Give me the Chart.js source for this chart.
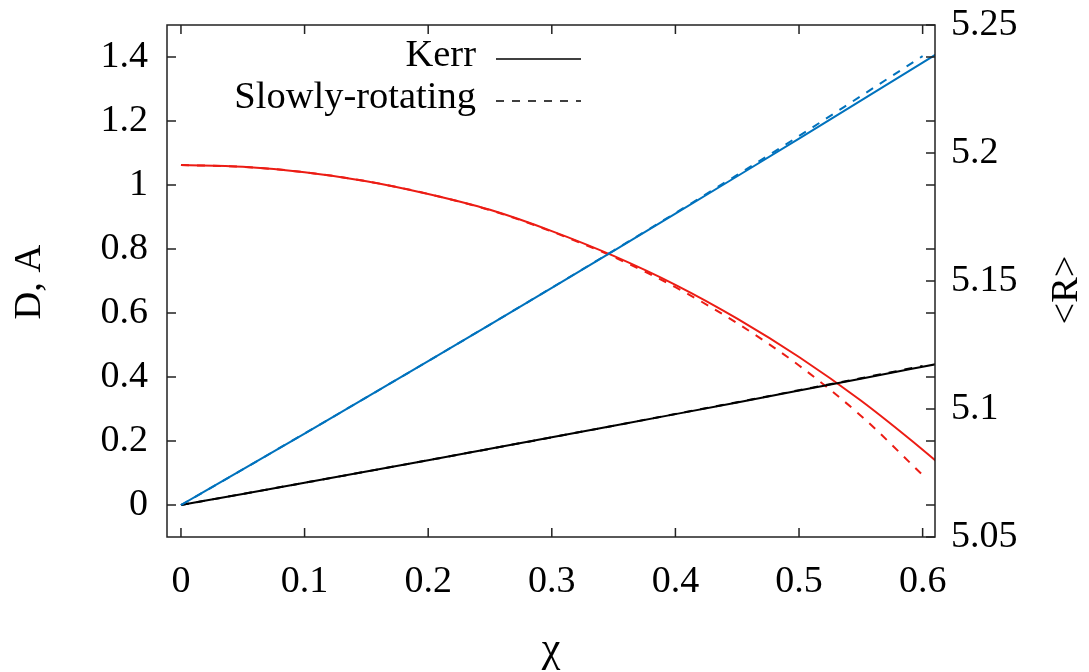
<!DOCTYPE html>
<html>
<head>
<meta charset="utf-8">
<script src="https://cdn.jsdelivr.net/npm/chart.js@4/dist/chart.umd.min.js"></script>
<style>
  html, body { margin: 0; padding: 0; background: #fff; }
  #wrap { width: 1089px; height: 672px; }
</style>
</head>
<body>
<div id="wrap"><canvas id="plot"></canvas></div>
<script>
// spin parameter samples
const chiKerr = [0, 0.05, 0.1, 0.15, 0.2, 0.25, 0.3, 0.35, 0.4, 0.45, 0.5, 0.55, 0.6, 0.62];
const chiSlow = [0, 0.05, 0.1, 0.15, 0.2, 0.25, 0.3, 0.35, 0.4, 0.45, 0.5, 0.55, 0.6];

// D (blue), left axis
const dKerr = [0, 0.1114, 0.2234, 0.3362, 0.4496, 0.5638, 0.6786, 0.7942, 0.9104, 1.0274, 1.145, 1.2634, 1.3824, 1.4302];
const dSlow = [0, 0.1114, 0.2234, 0.3362, 0.4496, 0.5639, 0.679, 0.7952, 0.9125, 1.0317, 1.1531, 1.2778, 1.403];

// A (black), left axis
const aKerr = [0, 0.0346, 0.0695, 0.1046, 0.140, 0.1756, 0.2115, 0.2476, 0.284, 0.3206, 0.3575, 0.3946, 0.432, 0.447];
const aSlow = [0, 0.0346, 0.0695, 0.1046, 0.140, 0.1756, 0.2115, 0.2478, 0.2845, 0.3214, 0.3587, 0.3962, 0.4345];

// <R> (red), right axis
const rKerr = [5.1953, 5.1946, 5.1925, 5.1890, 5.1840, 5.1778, 5.1695, 5.1598, 5.1485, 5.1353, 5.1203, 5.1033, 5.0841, 5.0759];
const rSlow = [5.1953, 5.1946, 5.1925, 5.1890, 5.1840, 5.1777, 5.1693, 5.1594, 5.1476, 5.1335, 5.1170, 5.0974, 5.0742];

// tick values
const xTicks = [0, 0.1, 0.2, 0.3, 0.4, 0.5, 0.6];
const yTicks = [0, 0.2, 0.4, 0.6, 0.8, 1, 1.2, 1.4];
const y2Ticks = [5.05, 5.1, 5.15, 5.2, 5.25];

const FONT = 'Liberation Serif';
const BLUE = '#0072bd';
const RED = '#ec1c14';
const BLACK = '#000000';

const pts = (xs, ys) => xs.map((x, i) => ({x: x, y: ys[i]}));

function line(label, xs, ys, color, axis, dashed) {
  return {
    label: label,
    data: pts(xs, ys),
    yAxisID: axis,
    borderColor: color,
    borderWidth: 2,
    borderDash: dashed ? [8, 8] : [],
    pointRadius: 0,
    cubicInterpolationMode: 'monotone',
    fill: false
  };
}

const fixTicks = vals => scale => { scale.ticks = vals.map(v => ({value: v})); };

// frame, inward ticks, legend and rotated axis titles
const decorations = {
  id: 'decorations',
  afterDraw(chart) {
    const {ctx, chartArea: a, scales} = chart;
    const tl = 9;
    ctx.save();
    ctx.strokeStyle = '#222';
    ctx.lineWidth = 1.5;
    ctx.strokeRect(a.left, a.top, a.right - a.left, a.bottom - a.top);

    ctx.beginPath();
    xTicks.forEach(v => {
      const px = scales.x.getPixelForValue(v);
      ctx.moveTo(px, a.bottom); ctx.lineTo(px, a.bottom - tl);
      ctx.moveTo(px, a.top); ctx.lineTo(px, a.top + tl);
    });
    yTicks.forEach(v => {
      const py = scales.y.getPixelForValue(v);
      ctx.moveTo(a.left, py); ctx.lineTo(a.left + tl, py);
      ctx.moveTo(a.right, py); ctx.lineTo(a.right - tl, py);
    });
    y2Ticks.forEach(v => {
      const py = scales.y2.getPixelForValue(v);
      ctx.moveTo(a.right, py); ctx.lineTo(a.right - tl, py);
    });
    ctx.stroke();

    // legend
    ctx.fillStyle = '#000';
    ctx.font = '38.5px "' + FONT + '"';
    ctx.textAlign = 'right';
    ctx.textBaseline = 'middle';
    ctx.fillText('Kerr', 476, 56);
    ctx.fillText('Slowly-rotating', 476, 98);
    ctx.strokeStyle = '#000';
    ctx.lineWidth = 1.5;
    ctx.beginPath();
    ctx.moveTo(496, 59); ctx.lineTo(581, 59);
    ctx.stroke();
    ctx.setLineDash([8, 8]);
    ctx.beginPath();
    ctx.moveTo(496, 101); ctx.lineTo(581, 101);
    ctx.stroke();
    ctx.setLineDash([]);

    // axis titles
    ctx.font = '42px "' + FONT + '"';
    ctx.textAlign = 'center';
    ctx.fillText('\u03c7', 551, 650);
    ctx.font = '38.5px "' + FONT + '"';
    ctx.save();
    ctx.translate(30, 282);
    ctx.rotate(-Math.PI / 2);
    ctx.fillText('D, A', 0, 0);
    ctx.restore();
    ctx.save();
    ctx.translate(1067, 290);
    ctx.rotate(-Math.PI / 2);
    ctx.fillText('<R>', 0, 0);
    ctx.restore();
    ctx.restore();
  }
};

const tickFont = {family: FONT, size: 38};

new Chart(document.getElementById('plot'), {
  type: 'line',
  data: {
    datasets: [
      line('D Kerr', chiKerr, dKerr, BLUE, 'y', false),
      line('D slowly-rotating', chiSlow, dSlow, BLUE, 'y', true),
      line('A Kerr', chiKerr, aKerr, BLACK, 'y', false),
      line('A slowly-rotating', chiSlow, aSlow, BLACK, 'y', true),
      line('<R> Kerr', chiKerr, rKerr, RED, 'y2', false),
      line('<R> slowly-rotating', chiSlow, rSlow, RED, 'y2', true)
    ]
  },
  options: {
    responsive: true,
    maintainAspectRatio: false,
    animation: false,
    layout: {padding: {top: 25, left: 0, right: 0, bottom: 0}},
    plugins: {
      legend: {display: false},
      tooltip: {enabled: false}
    },
    scales: {
      x: {
        type: 'linear',
        position: 'bottom',
        min: -0.0113,
        max: 0.61,
        afterBuildTicks: fixTicks(xTicks),
        afterFit: s => { s.height = 135; s.paddingLeft = 0; s.paddingRight = 0; },
        grid: {display: false, drawTicks: false},
        border: {display: false},
        ticks: {
          font: tickFont, color: '#000', padding: 22,
          autoSkip: false, maxRotation: 0,
          callback: v => String(v)
        }
      },
      y: {
        type: 'linear',
        position: 'left',
        min: -0.1,
        max: 1.5,
        afterBuildTicks: fixTicks(yTicks),
        afterFit: s => { s.width = 167; s.paddingTop = 0; s.paddingBottom = 0; },
        grid: {display: false, drawTicks: false},
        border: {display: false},
        ticks: {font: tickFont, color: '#000', padding: 19, callback: v => String(v)}
      },
      y2: {
        type: 'linear',
        position: 'right',
        min: 5.05,
        max: 5.25,
        afterBuildTicks: fixTicks(y2Ticks),
        afterFit: s => { s.width = 154; s.paddingTop = 0; s.paddingBottom = 0; },
        grid: {display: false, drawTicks: false},
        border: {display: false},
        ticks: {font: tickFont, color: '#000', padding: 16, callback: v => String(v)}
      }
    }
  },
  plugins: [decorations]
});
</script>
</body>
</html>
